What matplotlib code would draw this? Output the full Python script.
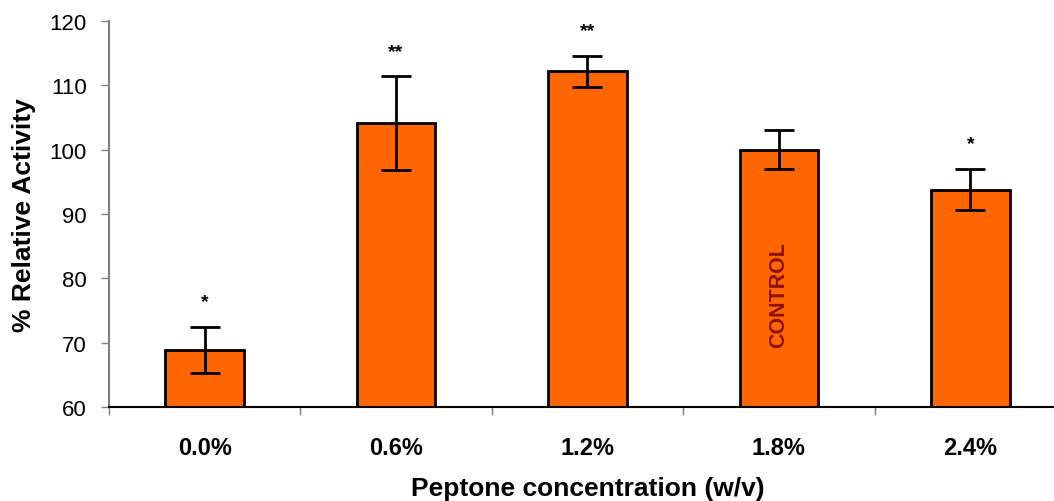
import matplotlib as mpl
mpl.use('Agg')
import matplotlib.pyplot as plt

plt.rcParams['font.family'] = ['Liberation Sans', 'DejaVu Sans']

# data
labels = ['0.0%', '0.6%', '1.2%', '1.8%', '2.4%']
activity = [68.9, 104.1, 112.2, 100.0, 93.8]
errors = [3.6, 7.3, 2.4, 3.0, 3.2]
stars = ['*', '**', '**', '', '*']

fig = plt.figure(figsize=(10.54, 5.02), dpi=100)
ax = fig.add_axes([0.1034, 0.1873, 0.908, 0.7689])

x = [i + 0.5 for i in range(len(labels))]
ax.bar(x, [a - 60 for a in activity], bottom=60, width=0.41, color='#ff6600',
       edgecolor='black', linewidth=2, zorder=2)
ax.errorbar(x, activity, yerr=errors, fmt='none', ecolor='black',
            elinewidth=2, capsize=11, capthick=2, zorder=3)

for xi, a, e, s in zip(x, activity, errors, stars):
    if s:
        ax.annotate(s, (xi, a + e), xytext=(0, 12), textcoords='offset points',
                    ha='center', va='bottom', fontsize=14, fontweight='bold')

ax.text(3.5, 77.6, 'CONTROL', rotation=90, ha='center', va='center',
        fontsize=15.5, fontweight='bold', color='#8b1100', zorder=4)

ax.set_xlim(0, 5)
ax.set_ylim(60, 120)
ax.set_yticks(range(60, 121, 10))
ax.tick_params(axis='y', labelsize=16, length=6, width=1, pad=10, color='#808080')
ax.set_xticks(x)
ax.set_xticklabels(labels, fontsize=17, fontweight='bold')
ax.set_xticks(range(0, 6), minor=True)
ax.tick_params(axis='x', which='major', length=0, pad=21)
ax.tick_params(axis='x', which='minor', length=6, width=1, color='#808080')

ax.spines['top'].set_visible(False)
ax.spines['right'].set_visible(False)
ax.spines['left'].set_color('#808080')
ax.spines['left'].set_linewidth(1.5)
ax.spines['bottom'].set_color('black')
ax.spines['bottom'].set_linewidth(1.5)

ax.set_ylabel('% Relative Activity', fontsize=19, fontweight='bold', labelpad=10)
ax.set_xlabel('Peptone concentration (w/v)', fontsize=19, fontweight='bold', labelpad=12)

fig.savefig('out.png', dpi=100)
